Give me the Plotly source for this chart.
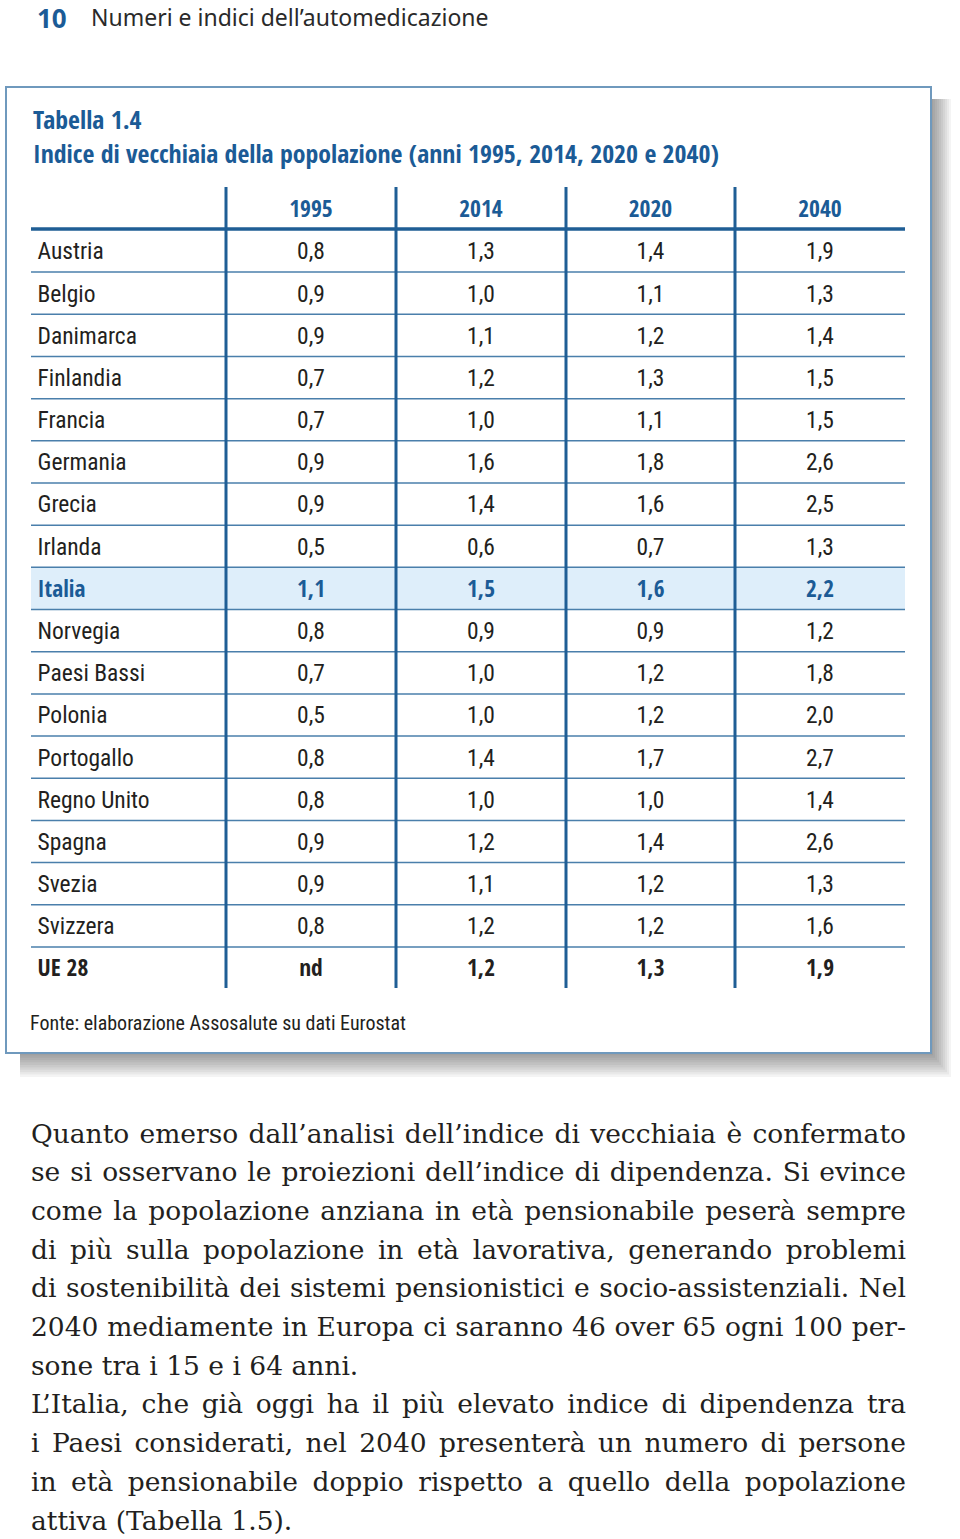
import json
import plotly.graph_objects as go

# ---------------- data ----------------
countries = ["Austria", "Belgio", "Danimarca", "Finlandia", "Francia", "Germania",
             "Grecia", "Irlanda", "Italia", "Norvegia", "Paesi Bassi", "Polonia",
             "Portogallo", "Regno Unito", "Spagna", "Svezia", "Svizzera", "UE 28"]
years = ["1995", "2014", "2020", "2040"]
v1995 = [0.8, 0.9, 0.9, 0.7, 0.7, 0.9, 0.9, 0.5, 1.1, 0.8, 0.7, 0.5, 0.8, 0.8, 0.9, 0.9, 0.8, None]
v2014 = [1.3, 1.0, 1.1, 1.2, 1.0, 1.6, 1.4, 0.6, 1.5, 0.9, 1.0, 1.0, 1.4, 1.0, 1.2, 1.1, 1.2, 1.2]
v2020 = [1.4, 1.1, 1.2, 1.3, 1.1, 1.8, 1.6, 0.7, 1.6, 0.9, 1.2, 1.2, 1.7, 1.0, 1.4, 1.2, 1.2, 1.3]
v2040 = [1.9, 1.3, 1.4, 1.5, 1.5, 2.6, 2.5, 1.3, 2.2, 1.2, 1.8, 2.0, 2.7, 1.4, 2.6, 1.3, 1.6, 1.9]
series = [v1995, v2014, v2020, v2040]

page_header_num = "10"
page_header_text = "Numeri e indici dell’automedicazione"
table_label = "Tabella 1.4"
table_title = "Indice di vecchiaia della popolazione (anni 1995, 2014, 2020 e 2040)"
source_note = "Fonte: elaborazione Assosalute su dati Eurostat"
body_lines = [
    "Quanto emerso dall’analisi dell’indice di vecchiaia è confermato",
    "se si osservano le proiezioni dell’indice di dipendenza. Si evince",
    "come la popolazione anziana in età pensionabile peserà sempre",
    "di più sulla popolazione in età lavorativa, generando problemi",
    "di sostenibilità dei sistemi pensionistici e socio-assistenziali. Nel",
    "2040 mediamente in Europa ci saranno 46 over 65 ogni 100 per-",
    "sone tra i 15 e i 64 anni.",
    "L’Italia, che già oggi ha il più elevato indice di dipendenza tra",
    "i Paesi considerati, nel 2040 presenterà un numero di persone",
    "in età pensionabile doppio rispetto a quello della popolazione",
    "attiva (Tabella 1.5).",
]
paragraph_ends = [6, 10]  # lines that end a paragraph (not justified)
highlight = "Italia"
total_row = "UE 28"

# ---------------- style / geometry ----------------
W, H = 960, 1539
BLUE = "#1b5b96"
LINE_BLUE = "#1f5e95"
THIN_BLUE = "#4a7fab"
HL_FILL = "#deeefa"
TXT = "#231f20"
COND_REG = "Roboto Condensed, DejaVu Sans Condensed, sans-serif"
COND_BOLD = "Open Sans Condensed, Roboto Condensed, DejaVu Sans Condensed, sans-serif"
SERIF = "DejaVu Serif, Liberation Serif, serif"
SANS = "Noto Sans, Open Sans, sans-serif"
CELL_SIZE = 23.5

box_l, box_t, box_r, box_b = 6, 87, 931, 1053
tab_l, tab_r = 31, 905
col_edges = [226, 396, 566, 735, 905]
col_centers = [(col_edges[i] + col_edges[i + 1]) / 2 for i in range(4)]
header_y = 209
row_y0, row_h = 251, 42.18
row_ys = [row_y0 + i * row_h for i in range(len(countries))]
text_dy = 2.5  # optical correction: text boxes are centred incl. descenders
vline_top, vline_bot = 187, 988
header_line_y = 229
body_x, body_w = 31, 875

def fmt(v):
    return "nd" if v is None else f"{v:.1f}".replace(".", ",")

shapes = []
# drop shadow
for k in range(1, 11):
    shapes.append(dict(type="rect", xref="x", yref="y", layer="below",
                       x0=box_l + 14, y0=box_t + 12, x1=box_r + k * 2.0, y1=box_b + k * 2.4,
                       fillcolor="rgba(0,0,0,0.045)", line=dict(width=0)))
# frame
shapes.append(dict(type="rect", xref="x", yref="y", layer="below",
                   x0=box_l, y0=box_t, x1=box_r, y1=box_b,
                   fillcolor="white", line=dict(color="#6f99bd", width=2)))
# highlight row
hi = countries.index(highlight)
shapes.append(dict(type="rect", xref="x", yref="y", layer="below",
                   x0=tab_l, x1=tab_r,
                   y0=row_ys[hi] - row_h / 2, y1=row_ys[hi] + row_h / 2,
                   fillcolor=HL_FILL, line=dict(width=0)))
# row separators
for i in range(len(countries) - 1):
    y = (row_ys[i] + row_ys[i + 1]) / 2
    shapes.append(dict(type="line", xref="x", yref="y", x0=tab_l, x1=tab_r, y0=y, y1=y,
                       line=dict(color=THIN_BLUE, width=1.5)))
# header line
shapes.append(dict(type="line", xref="x", yref="y", x0=tab_l, x1=tab_r,
                   y0=header_line_y, y1=header_line_y, line=dict(color=LINE_BLUE, width=3.5)))
# vertical column lines
for x in col_edges[:-1]:
    shapes.append(dict(type="line", xref="x", yref="y", x0=x, x1=x, y0=vline_top, y1=vline_bot,
                       line=dict(color=LINE_BLUE, width=3)))

fig = go.Figure()

def row_style(name):
    if name == highlight:
        return BLUE, COND_BOLD, "bold"
    if name == total_row:
        return TXT, COND_BOLD, "bold"
    return TXT, COND_REG, "normal"

colors = [row_style(c)[0] for c in countries]
families = [row_style(c)[1] for c in countries]
weights = [row_style(c)[2] for c in countries]
text_ys = [y + text_dy for y in row_ys]

# row labels
fig.add_trace(go.Scatter(x=[37.5] * len(countries), y=text_ys, mode="text", text=countries,
                         textposition="middle right", hoverinfo="skip",
                         textfont=dict(family=families, size=CELL_SIZE, color=colors, weight=weights)))
# column headers
fig.add_trace(go.Scatter(x=col_centers, y=[header_y + text_dy] * 4, mode="text", text=years,
                         textposition="middle center", hoverinfo="skip",
                         textfont=dict(family=COND_BOLD, size=CELL_SIZE, color=BLUE, weight="bold")))
# cells
for ci, vals in enumerate(series):
    fig.add_trace(go.Scatter(x=[col_centers[ci]] * len(vals), y=text_ys, mode="text",
                             text=[fmt(v) for v in vals], textposition="middle center",
                             hoverinfo="skip",
                             textfont=dict(family=families, size=CELL_SIZE, color=colors,
                                           weight=weights)))

annotations = [
    dict(x=35, y=17.7, text=f"<b>{page_header_num}</b>", showarrow=False, xanchor="left",
         yanchor="middle", font=dict(family=SANS, size=26, color=BLUE)),
    dict(x=89, y=16.5, text=page_header_text, showarrow=False, xanchor="left",
         yanchor="middle", font=dict(family=SANS, size=23, color="#2a2a2a")),
    dict(x=31, y=136, text=f"<b>{table_label}</b><br><b>{table_title}</b>", showarrow=False,
         xanchor="left", yanchor="middle", align="left",
         font=dict(family=COND_BOLD, size=25.8, color=BLUE)),
    dict(x=28, y=1023, text=source_note, showarrow=False, xanchor="left",
         yanchor="middle", font=dict(family=COND_REG, size=20, color=TXT)),
]
line_y0, line_h = 1133, 38.7
for i, t in enumerate(body_lines):
    annotations.append(dict(x=body_x - 2, y=line_y0 + i * line_h, text=t, showarrow=False,
                            xanchor="left", yanchor="middle",
                            font=dict(family=SERIF, size=26.5, color=TXT)))

fig.update_layout(
    width=W, height=H, margin=dict(l=0, r=0, t=0, b=0),
    paper_bgcolor="white", plot_bgcolor="white", showlegend=False,
    xaxis=dict(range=[0, W], visible=False, fixedrange=True),
    yaxis=dict(range=[H, 0], visible=False, fixedrange=True),
    shapes=shapes, annotations=annotations,
)

justify = [t for i, t in enumerate(body_lines) if i not in paragraph_ends]
post = """
document.body.style.margin='0';
(function(){
  var J = %s, TW = %f;
  function run(){
    var gd = document.getElementById('{plot_id}');
    if(!gd) return;
    gd.querySelectorAll('text.annotation-text').forEach(function(t){
      if (J.indexOf(t.textContent) < 0) return;
      t.style.wordSpacing = '0px';
      var bb = t.getBBox();
      var w = t.getComputedTextLength();
      var n = (t.textContent.match(/ /g) || []).length;
      t.setAttribute('text-anchor', 'start');
      t.setAttribute('x', bb.x);
      if (n > 0 && TW > w) t.style.wordSpacing = ((TW - w) / n) + 'px';
    });
  }
  run();
})();
""" % (json.dumps(justify), body_w)
fig.write_html("out.html", config={"displayModeBar": False}, post_script=post)
